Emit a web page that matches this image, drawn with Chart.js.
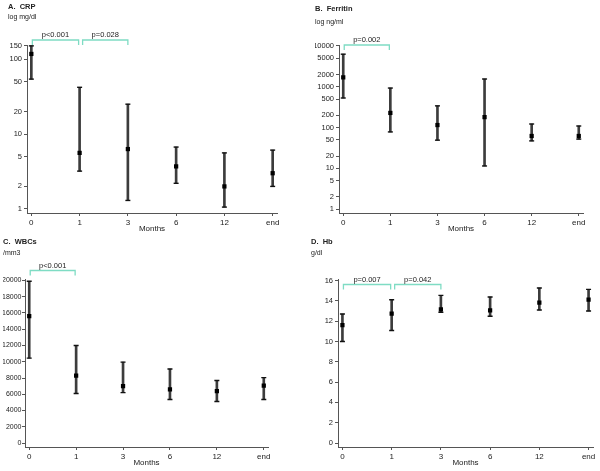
<!DOCTYPE html>
<html>
<head>
<meta charset="utf-8">
<script src="https://cdn.jsdelivr.net/npm/chart.js@4.4.0/dist/chart.umd.min.js"></script>
<style>
  body { margin: 0; background: #fff; }
  #wrap { position: relative; width: 600px; height: 471px; }
  canvas { position: absolute; }
</style>
</head>
<body>
<div id="wrap">
  <canvas id="cA" width="300" height="235" style="left:0;top:0"></canvas>
  <canvas id="cB" width="300" height="235" style="left:300px;top:0"></canvas>
  <canvas id="cC" width="300" height="236" style="left:0;top:235px"></canvas>
  <canvas id="cD" width="300" height="236" style="left:300px;top:235px"></canvas>
</div>
<script>
// tempi di controllo (asse x)
var months = ['0', '1', '3', '6', '12', 'end'];

// A. CRP (log mg/dl)
var crpMean = [117, 5.6, 6.3, 3.7, 2.0, 3.0];
var crpLow = [54, 3.2, 1.3, 2.2, 1.06, 2.0];
var crpHigh = [150, 42, 25, 6.7, 5.6, 6.1];
var crpTicks = [1, 2, 5, 10, 20, 50, 100, 150];
var crpBracketFrom = ['0', '1'];
var crpBracketTo = ['1', '3'];
var crpBracketText = ['p<0.001', 'p=0.028'];

// B. Ferritin (log ng/ml)
var ferMean = [1700, 228, 115, 180, 62, 62];
var ferLow = [530, 78, 49, 11.4, 47, 52];
var ferHigh = [6300, 930, 340, 1550, 122, 109];
var ferTicks = [1, 2, 5, 10, 20, 50, 100, 200, 500, 1000, 2000, 5000, 10000];
var ferBracketFrom = ['0'];
var ferBracketTo = ['1'];
var ferBracketText = ['p=0.002'];

// C. WBCs (/mm3)
var wbcMean = [15600, 8300, 7000, 6600, 6400, 7050];
var wbcLow = [10450, 6100, 6200, 5350, 5100, 5350];
var wbcHigh = [19900, 12000, 9950, 9100, 7700, 8050];
var wbcTicks = [0, 2000, 4000, 6000, 8000, 10000, 12000, 14000, 16000, 18000, 20000];
var wbcBracketFrom = ['0'];
var wbcBracketTo = ['1'];
var wbcBracketText = ['p<0.001'];

// D. Hb (g/dl)
var hbMean = [11.6, 12.75, 13.17, 13.07, 13.82, 14.12];
var hbLow = [10.0, 11.08, 12.88, 12.48, 13.1, 13.0];
var hbHigh = [12.7, 14.1, 14.54, 14.38, 15.26, 15.13];
var hbTicks = [0, 2, 4, 6, 8, 10, 12, 14, 16];
var hbBracketFrom = ['0', '1'];
var hbBracketTo = ['1', '3'];
var hbBracketText = ['p=0.007', 'p=0.042'];

var FONT = '"Liberation Sans", Arial, sans-serif';
var INK = '#222';

// plugin per le parentesi dei p-value sopra il grafico
var bracketPlugin = {
    id: 'brackets',
    afterDraw: function(chart, args, opts) {
        var ctx = chart.ctx;
        var x = chart.scales.x;
        var top = chart.chartArea.top + opts.offset;
        ctx.save();
        ctx.strokeStyle = '#7fdcc4';
        ctx.lineWidth = 1.3;
        ctx.fillStyle = INK;
        ctx.font = '7.5px ' + FONT;
        ctx.textAlign = 'center';
        ctx.textBaseline = 'middle';
        for (var i = 0; i < opts.from.length; i++) {
            var x1 = x.getPixelForValue(months.indexOf(opts.from[i])) + (i === 0 ? 1 : 3);
            var x2 = x.getPixelForValue(months.indexOf(opts.to[i])) - (i === 0 ? 1 : 0);
            ctx.beginPath();
            ctx.moveTo(x1, top + 5);
            ctx.lineTo(x1, top);
            ctx.lineTo(x2, top);
            ctx.lineTo(x2, top + 5);
            ctx.stroke();
            ctx.fillText(opts.text[i], (x1 + x2) / 2, top - 5);
        }
        ctx.restore();
    }
};

function punti(valori) {
    var out = [];
    for (var i = 0; i < valori.length; i++) out.push({x: i, y: valori[i]});
    return out;
}

function barre(bassi, alti) {
    var out = [];
    for (var i = 0; i < bassi.length; i++) out.push({x: i, y: [bassi[i], alti[i]]});
    return out;
}

function disegna_pannello(id, p) {
    new Chart(document.getElementById(id), {
        type: 'bar',
        data: {
            datasets: [
                { type: 'scatter', data: punti(p.mean), pointStyle: 'rect', pointRadius: 3,
                  backgroundColor: '#000', borderColor: '#000', borderWidth: 0 },
                { type: 'scatter', data: punti(p.low).concat(punti(p.high)), pointStyle: 'line', pointRadius: 2.5,
                  borderColor: '#111', borderWidth: 1.4 },
                { type: 'bar', data: barre(p.low, p.high), barThickness: 2, backgroundColor: '#3c3c3c',
                  borderWidth: 0 }
            ]
        },
        options: {
            responsive: false,
            animation: false,
            layout: { padding: { left: p.padLeft, right: p.padRight, top: 0, bottom: 0 } },
            plugins: {
                legend: { display: false },
                tooltip: { enabled: false },
                title: { display: true, text: p.title, align: 'start', color: INK,
                    font: { family: FONT, size: 7.5, weight: 'bold' }, padding: p.titlePad },
                subtitle: { display: true, text: p.unit, align: 'start', color: INK,
                    font: { family: FONT, size: 7 }, padding: p.subPad },
                brackets: { from: p.bFrom, to: p.bTo, text: p.bText, offset: p.bOffset }
            },
            scales: {
                x: {
                    type: 'linear', min: -0.09, max: 5.09, offset: false,
                    grid: { display: true, drawOnChartArea: false, offset: false, tickLength: 3, color: '#555' },
                    border: { display: true, color: '#555' },
                    ticks: { autoSkip: false, maxRotation: 0, padding: 2, color: INK,
                        font: { family: FONT, size: 8 },
                        callback: function(v) { return months[v]; } },
                    afterBuildTicks: function(scale) {
                        scale.ticks = months.map(function(m, i) { return {value: i}; });
                    },
                    afterFit: function(scale) { scale.height = p.xHeight; },
                    title: { display: true, text: 'Months', color: INK,
                        font: { family: FONT, size: 8 }, padding: { top: 0, bottom: p.monthsPad } }
                },
                y: {
                    type: p.yType, min: p.yMin, max: p.yMax,
                    grid: { display: true, drawOnChartArea: false, tickLength: 3, color: '#555' },
                    border: { display: true, color: '#555' },
                    ticks: { autoSkip: false, padding: p.yPad, color: INK,
                        font: { family: FONT, size: p.yFont },
                        callback: function(v) { return String(v); } },
                    afterBuildTicks: function(scale) {
                        scale.ticks = p.ticks.map(function(v) { return {value: v}; });
                    },
                    afterFit: function(scale) { scale.width = p.yWidth; }
                }
            }
        },
        plugins: [bracketPlugin]
    });
}

disegna_pannello('cA', {
    title: 'A.  CRP', unit: 'log mg/dl', mean: crpMean, low: crpLow, high: crpHigh, ticks: crpTicks,
    bFrom: crpBracketFrom, bTo: crpBracketTo, bText: crpBracketText, bOffset: -5,
    yType: 'logarithmic', yMin: 0.884, yMax: 154, yFont: 7.5, yPad: 2,
    padLeft: 8, padRight: 23, yWidth: 19, xHeight: 22, monthsPad: 1,
    titlePad: { top: 2, bottom: 1 }, subPad: { top: 0.8, bottom: 23.8 }
});
disegna_pannello('cB', {
    title: 'B.  Ferritin', unit: 'log ng/ml', mean: ferMean, low: ferLow, high: ferHigh, ticks: ferTicks,
    bFrom: ferBracketFrom, bTo: ferBracketTo, bText: ferBracketText, bOffset: 0,
    yType: 'logarithmic', yMin: 0.8, yMax: 10580, yFont: 7.5, yPad: 2,
    padLeft: 15, padRight: 17, yWidth: 24, xHeight: 22, monthsPad: 1,
    titlePad: { top: 4.5, bottom: 1 }, subPad: { top: 3.3, bottom: 18.8 }
});
disegna_pannello('cC', {
    title: 'C.  WBCs', unit: '/mm3', mean: wbcMean, low: wbcLow, high: wbcHigh, ticks: wbcTicks,
    bFrom: wbcBracketFrom, bTo: wbcBracketTo, bText: wbcBracketText, bOffset: -9,
    yType: 'linear', yMin: -490, yMax: 20120, yFont: 7, yPad: 0.5,
    padLeft: 3, padRight: 32, yWidth: 22, xHeight: 24, monthsPad: 3,
    titlePad: { top: 2.5, bottom: 1 }, subPad: { top: 1.8, bottom: 21.8 }
});
disegna_pannello('cD', {
    title: 'D.  Hb', unit: 'g/dl', mean: hbMean, low: hbLow, high: hbHigh, ticks: hbTicks,
    bFrom: hbBracketFrom, bTo: hbBracketTo, bText: hbBracketText, bOffset: 5,
    yType: 'linear', yMin: -0.39, yMax: 16.1, yFont: 7.5, yPad: 2,
    padLeft: 11, padRight: 7, yWidth: 27, xHeight: 24, monthsPad: 3,
    titlePad: { top: 2.5, bottom: 1 }, subPad: { top: 1.8, bottom: 21.8 }
});
</script>
</body>
</html>
